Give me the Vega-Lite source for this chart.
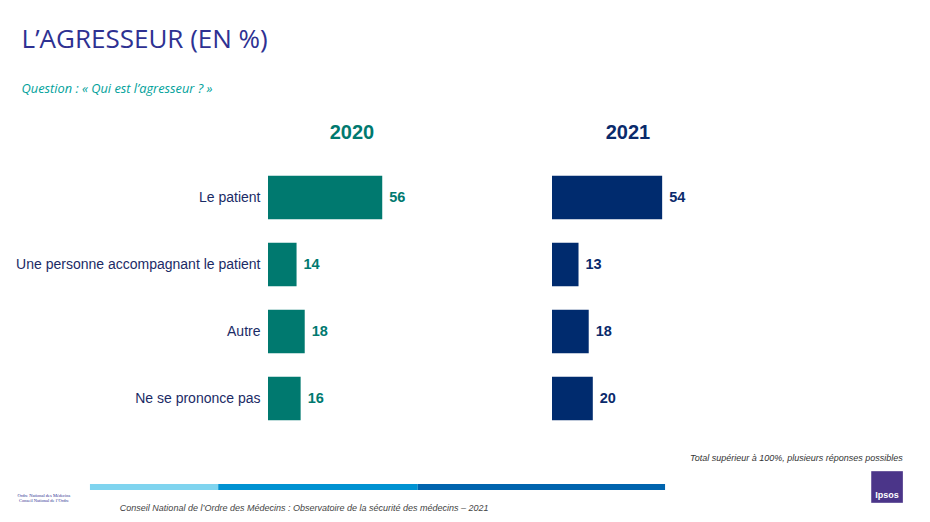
{
  "$schema": "https://vega.github.io/schema/vega-lite/v6.json",
  "padding": {"left": 15, "top": 27, "right": 10, "bottom": 5},
  "background": "white",
  "title": {
    "text": "L’AGRESSEUR (EN %)",
    "subtitle": "Question : « Qui est l’agresseur ?  »",
    "anchor": "start",
    "frame": "bounds",
    "font": "Open Sans",
    "fontSize": 26,
    "fontWeight": "normal",
    "color": "#2E3192",
    "subtitleFont": "Open Sans",
    "subtitleFontSize": 12.8,
    "subtitleFontStyle": "italic",
    "subtitleColor": "#00A19A",
    "subtitlePadding": 30,
    "offset": 27,
    "dx": 6
  },
  "config": {"view": {"stroke": null}, "font": "Liberation Sans"},
  "datasets": {
    "agresseur": [
      {"agresseur": "Le patient", "annee": "2020", "pourcentage": 56},
      {"agresseur": "Une personne accompagnant le patient", "annee": "2020", "pourcentage": 14},
      {"agresseur": "Autre", "annee": "2020", "pourcentage": 18},
      {"agresseur": "Ne se prononce pas", "annee": "2020", "pourcentage": 16},
      {"agresseur": "Le patient", "annee": "2021", "pourcentage": 54},
      {"agresseur": "Une personne accompagnant le patient", "annee": "2021", "pourcentage": 13},
      {"agresseur": "Autre", "annee": "2021", "pourcentage": 18},
      {"agresseur": "Ne se prononce pas", "annee": "2021", "pourcentage": 20}
    ],
    "bande": [
      {"segment": "a", "debut": 0, "fin": 22.3},
      {"segment": "b", "debut": 22.3, "fin": 57},
      {"segment": "c", "debut": 57, "fin": 100}
    ],
    "notes": [
      {"texte": "Conseil National de l’Ordre des Médecins : Observatoire de la sécurité des médecins – 2021"}
    ],
    "ordre": [
      {"ligne1": "Ordre National des Médecins", "ligne2": "Conseil National de l’Ordre"}
    ],
    "logo": [
      {"nom": "Ipsos"}
    ]
  },
  "spacing": 22,
  "vconcat": [
    {
      "spacing": 80,
      "hconcat": [
        {
          "width": 204,
          "height": 268,
          "title": {"text": "2020", "fontSize": 20, "fontWeight": "bold", "color": "#00796F", "font": "Liberation Sans", "offset": 21, "dx": -18},
          "data": {"name": "agresseur"},
          "transform": [{"filter": "datum.annee == '2020'"}],
          "encoding": {
            "y": {
              "field": "agresseur", "type": "nominal",
              "sort": ["Le patient", "Une personne accompagnant le patient", "Autre", "Ne se prononce pas"],
              "scale": {"paddingInner": 0.35, "paddingOuter": 0.175},
              "axis": {"title": null, "domain": false, "ticks": false, "labelFontSize": 14, "labelColor": "#1B2B66", "labelPadding": 8, "labelLimit": 400, "labelFont": "Liberation Sans"}
            },
            "x": {"field": "pourcentage", "type": "quantitative", "scale": {"domain": [0, 100], "nice": false}, "axis": null}
          },
          "layer": [
            {"mark": {"type": "bar", "color": "#00796F"}},
            {"mark": {"type": "text", "align": "left", "dx": 7, "fontSize": 14.5, "fontWeight": "bold", "color": "#00796F"}, "encoding": {"text": {"field": "pourcentage"}}}
          ]
        },
        {
          "width": 204,
          "height": 268,
          "title": {"text": "2021", "fontSize": 20, "fontWeight": "bold", "color": "#0A2A6B", "font": "Liberation Sans", "offset": 21, "dx": -26},
          "data": {"name": "agresseur"},
          "transform": [{"filter": "datum.annee == '2021'"}],
          "encoding": {
            "y": {
              "field": "agresseur", "type": "nominal",
              "sort": ["Le patient", "Une personne accompagnant le patient", "Autre", "Ne se prononce pas"],
              "scale": {"paddingInner": 0.35, "paddingOuter": 0.175},
              "axis": null
            },
            "x": {"field": "pourcentage", "type": "quantitative", "scale": {"domain": [0, 100], "nice": false}, "axis": null}
          },
          "layer": [
            {"mark": {"type": "bar", "color": "#002B6E"}},
            {"mark": {"type": "text", "align": "left", "dx": 7, "fontSize": 14.5, "fontWeight": "bold", "color": "#0A2A6B"}, "encoding": {"text": {"field": "pourcentage"}}}
          ]
        }
      ]
    },
    {
      "width": 634,
      "height": 6,
      "title": {"text": "Total supérieur à 100%, plusieurs réponses possibles", "anchor": "end", "orient": "top", "fontSize": 9, "fontStyle": "italic", "fontWeight": "normal", "color": "#333333", "font": "Liberation Sans", "offset": 8},
      "layer": [
        {
          "data": {"name": "bande"},
          "mark": {"type": "rect", "clip": false},
          "encoding": {
            "x": {"field": "debut", "type": "quantitative", "scale": {"domain": [30.96, 141.2], "nice": false, "zero": false}, "axis": null},
            "x2": {"field": "fin"},
            "color": {"field": "segment", "type": "nominal", "scale": {"domain": ["a", "b", "c"], "range": ["#7FD4EF", "#0092D2", "#0064AE"]}, "legend": null}
          }
        },
        {
          "data": {"name": "notes"},
          "mark": {"type": "text", "align": "left", "baseline": "middle", "dy": 21, "fontSize": 9, "fontStyle": "italic", "color": "#444444", "font": "Liberation Sans"},
          "encoding": {"x": {"datum": 5.2}, "text": {"field": "texte"}}
        },
        {
          "data": {"name": "ordre"},
          "mark": {"type": "text", "align": "center", "baseline": "middle", "dy": 9, "fontSize": 4.5, "color": "#2E3192", "font": "Liberation Serif"},
          "encoding": {"x": {"datum": -8}, "text": {"field": "ligne1"}}
        },
        {
          "data": {"name": "ordre"},
          "mark": {"type": "text", "align": "center", "baseline": "middle", "dy": 14, "fontSize": 4.5, "color": "#2E3192", "font": "Liberation Serif"},
          "encoding": {"x": {"datum": -8}, "text": {"field": "ligne2"}}
        },
        {
          "data": {"name": "logo"},
          "mark": {"type": "square", "size": 1000, "color": "#4B3589", "opacity": 1},
          "encoding": {"x": {"datum": 138.6}}
        },
        {
          "data": {"name": "logo"},
          "mark": {"type": "text", "align": "center", "baseline": "middle", "dy": 8, "fontSize": 9, "fontWeight": "bold", "color": "white"},
          "encoding": {"x": {"datum": 138.6}, "text": {"field": "nom"}}
        }
      ]
    }
  ]
}
